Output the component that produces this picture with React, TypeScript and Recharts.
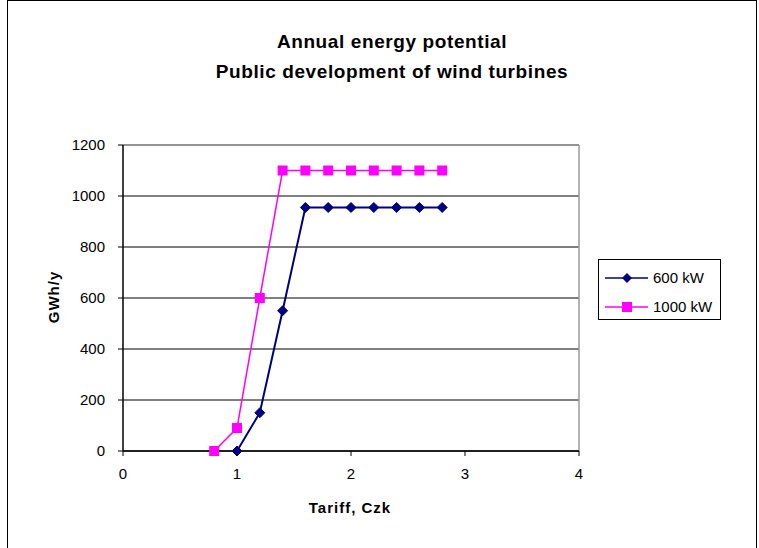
import {
  LineChart,
  Line,
  XAxis,
  YAxis,
  CartesianGrid,
  ReferenceLine,
} from "recharts";

const tariffs = [0.8, 1.0, 1.2, 1.4, 1.6, 1.8, 2.0, 2.2, 2.4, 2.6, 2.8];
const kw600 = [null, 0, 150, 550, 955, 955, 955, 955, 955, 955, 955];
const kw1000 = [0, 90, 600, 1100, 1100, 1100, 1100, 1100, 1100, 1100, 1100];
const xTicks = [0, 1, 2, 3, 4];
const yTicks = [0, 200, 400, 600, 800, 1000, 1200];

const data = tariffs.map((t, i) => ({
  tariff: t,
  kw600: kw600[i],
  kw1000: kw1000[i],
}));

const NAVY = "#000080";
const MAGENTA = "#FF00FF";
const FONT = "'Liberation Sans', Arial, sans-serif";

const Diamond = (props: any) => {
  const { cx, cy } = props;
  if (cx == null || cy == null || props.value == null) return null;
  const r = 5;
  return (
    <polygon
      points={`${cx},${cy - r} ${cx + r},${cy} ${cx},${cy + r} ${cx - r},${cy}`}
      fill={NAVY}
      stroke={NAVY}
    />
  );
};

const Square = (props: any) => {
  const { cx, cy } = props;
  if (cx == null || cy == null || props.value == null) return null;
  const s = 10;
  return <rect x={cx - s / 2} y={cy - s / 2} width={s} height={s} fill={MAGENTA} />;
};

const legendItems = [
  { name: "600 kW", color: NAVY, marker: "diamond" },
  { name: "1000 kW", color: MAGENTA, marker: "square" },
];

// legend drawn beside the chart, like the Excel original
const LegendBox = () => (
  <div
    style={{
      position: "absolute",
      left: 598,
      top: 259,
      width: 123,
      height: 61,
      border: "1px solid #000",
      background: "#fff",
      fontFamily: FONT,
      fontSize: 15,
      boxSizing: "border-box",
      paddingTop: 3,
    }}
  >
    {legendItems.map((it) => (
      <div key={it.name} style={{ display: "flex", alignItems: "center", height: 29 }}>
        <svg width={50} height={14} style={{ marginLeft: 5 }}>
          <line x1={1} y1={7} x2={44} y2={7} stroke={it.color} strokeWidth={1.5} />
          {it.marker === "diamond" ? (
            <polygon points="23,2 28,7 23,12 18,7" fill={it.color} />
          ) : (
            <rect x={18} y={2} width={10} height={10} fill={it.color} />
          )}
        </svg>
        <span style={{ color: "#000", marginLeft: -1 }}>{it.name}</span>
      </div>
    ))}
  </div>
);

const YLabel = () => (
  <text
    x={59}
    y={297}
    transform="rotate(-90, 59, 297)"
    textAnchor="middle"
    fill="#000"
    fontSize={15}
    fontWeight="bold"
    fontFamily={FONT}
    letterSpacing={1}
  >
    GWh/y
  </text>
);

const XLabel = () => (
  <text
    x={350}
    y={513}
    textAnchor="middle"
    fill="#000"
    fontSize={15}
    fontWeight="bold"
    fontFamily={FONT}
    letterSpacing={1}
  >
    Tariff, Czk
  </text>
);

const App = () => {
  return (
    <div
      style={{
        position: "absolute",
        left: 0,
        top: 0,
        width: 759,
        height: 548,
        background: "#fff",
        fontFamily: FONT,
        overflow: "hidden",
      }}
    >
      <div
        style={{
          position: "absolute",
          left: 7,
          top: 0,
          width: 750,
          height: 560,
          border: "1px solid #000",
          boxSizing: "border-box",
        }}
      />
      <div
        style={{
          position: "absolute",
          left: 0,
          top: 27,
          width: 784,
          textAlign: "center",
          fontWeight: "bold",
          fontSize: 19,
          letterSpacing: 0.6,
          lineHeight: "29.5px",
          color: "#000",
        }}
      >
        Annual energy potential
        <br />
        Public development of wind turbines
      </div>
      <LineChart
        width={759}
        height={548}
        data={data}
        margin={{ top: 145, right: 180, bottom: 67, left: 83 }}
        style={{ position: "absolute", left: 0, top: 0 }}
      >
        <CartesianGrid vertical={false} stroke="#000" strokeOpacity={1} />
        <ReferenceLine x={4} stroke="#9a9a9a" strokeWidth={1.5} />
        <ReferenceLine y={1200} stroke="#9a9a9a" strokeWidth={1.5} />
        <XAxis
          dataKey="tariff"
          type="number"
          domain={[0, 4]}
          ticks={xTicks}
          height={30}
          axisLine={{ stroke: "#000", strokeWidth: 1.5 }}
          tickLine={{ stroke: "#000" }}
          tickSize={5}
          tickMargin={12}
          tick={{ fill: "#000", fontSize: 15, fontFamily: FONT }}
          label={<XLabel />}
        />
        <YAxis
          type="number"
          domain={[0, 1200]}
          ticks={yTicks}
          width={40}
          axisLine={{ stroke: "#000", strokeWidth: 1.5 }}
          tickLine={{ stroke: "#000" }}
          tickSize={5}
          tickMargin={13}
          tick={{ fill: "#000", fontSize: 15, fontFamily: FONT }}
          label={<YLabel />}
        />
        <Line
          dataKey="kw600"
          name="600 kW"
          stroke={NAVY}
          strokeWidth={2}
          dot={<Diamond />}
          activeDot={false}
          isAnimationActive={false}
        />
        <Line
          dataKey="kw1000"
          name="1000 kW"
          stroke={MAGENTA}
          strokeWidth={1.5}
          dot={<Square />}
          activeDot={false}
          isAnimationActive={false}
        />
      </LineChart>
      <LegendBox />
    </div>
  );
};

export default App;
